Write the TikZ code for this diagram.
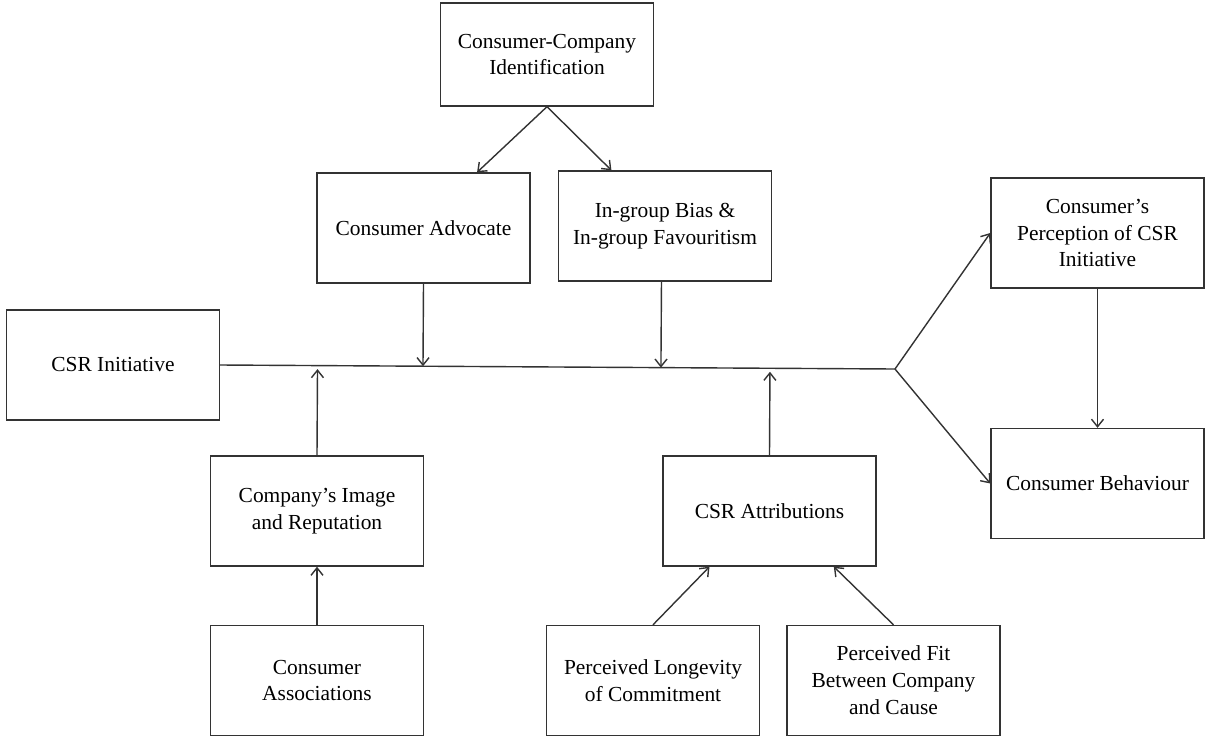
\documentclass[tikz,border=0pt]{standalone}
\usepackage{fontspec}
\setmainfont{Liberation Serif}
\usepackage{tikz}
\usetikzlibrary{calc,arrows.meta}
\tikzset{
  block/.style={draw=black!80, line width=0.8pt, align=center, minimum width=4.26cm,
    minimum height=2.2cm, inner sep=2pt, font=\fontsize{12.2}{15.3}\selectfont},
  link/.style={black!80, line width=0.8pt},
  arr/.style={link, -{Straight Barb[length=1.5mm,width=2.4mm]}}
}

\begin{document}
\begin{tikzpicture}[x=0.02cm,y=-0.02cm]
\useasboundingbox (0,0) rectangle (1205,738);
\node[block, minimum height=2.06cm] (ident) at (547,54.5) {Consumer-Company\\Identification};
\node[block] (advocate) at (423.5,228) {Consumer Advocate};
\node[block] (bias) at (665,226) {In-group Bias \&\\In-group Favouritism};
\node[block] (init) at (113,365) {CSR Initiative};
\node[block] (percep) at (1097.5,233) {Consumer's\\Perception of CSR\\Initiative};
\node[block] (behav) at (1097.5,483.5) {Consumer Behaviour};
\node[block] (image) at (317,511) {Company's Image\\and Reputation};
\node[block] (attr) at (769.5,511) {CSR Attributions};
\node[block] (assoc) at (317,680.5) {Consumer\\Associations};
\node[block] (longev) at (653,680.5) {Perceived Longevity\\of Commitment};
\node[block] (fit) at (893.5,680.5) {Perceived Fit\\Between Company\\and Cause};

\coordinate (split) at (895,369);
\draw[link] (init.east) -- (split);
\draw[arr] (split) -- (percep.west);
\draw[arr] (split) -- (behav.west);

\draw[arr] (ident.south) -- ($(advocate.north)!0.5!(advocate.north east)$);
\draw[arr] (ident.south) -- ($(bias.north west)!0.5!(bias.north)$);
\draw[arr] (advocate.south) -- ($(init.east)!(advocate.south)!(split)$);
\draw[arr] ([xshift=-2]bias.south) -- ($(init.east)!([xshift=-2]bias.south)!(split)$);
\draw[arr, shorten >=2pt] (image.north) -- ($(init.east)!(image.north)!(split)$);
\draw[arr, shorten >=2pt] (attr.north) -- ($(init.east)!(attr.north)!(split)$);

\draw[arr] (percep.south) -- (behav.north);
\draw[arr] (assoc.north) -- (image.south);
\draw[arr] (longev.north) -- ($(attr.south west)!0.22!(attr.south east)$);
\draw[arr] (fit.north) -- ($(attr.south west)!0.8!(attr.south east)$);
\end{tikzpicture}
\end{document}
